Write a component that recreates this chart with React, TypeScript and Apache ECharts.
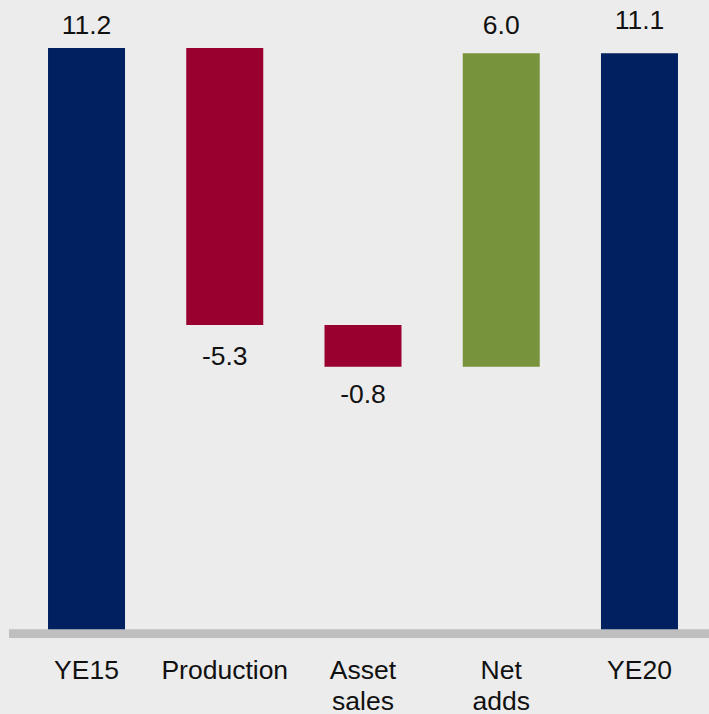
import React, { useEffect, useRef } from 'react';
import * as echarts from 'echarts';

const categories = ['YE15', 'Production', 'Asset\nsales', 'Net\nadds', 'YE20'];
const changes = [11.2, -5.3, -0.8, 6.0, 11.1];
const isTotal = [true, false, false, false, true];

const NAVY = '#002060';
const RED = '#990030';
const GREEN = '#77933C';
const BG = '#ececec';
const AXIS = '#bfbfbf';
const FONT = '"Liberation Sans", Arial, sans-serif';
const labelDist = [8, 16, 12, 13, 18.5];

export default function App() {
  const ref = useRef<HTMLDivElement>(null);
  useEffect(() => {
    if (!ref.current) return;
    const chart = echarts.init(ref.current, undefined, { renderer: 'svg' });
    const base: number[] = [];
    const heights: number[] = [];
    let running = 0;
    changes.forEach((v, i) => {
      if (isTotal[i]) {
        base.push(0);
        heights.push(v);
        running = v;
      } else if (v < 0) {
        base.push(running + v);
        heights.push(-v);
        running += v;
      } else {
        base.push(running);
        heights.push(v);
        running += v;
      }
    });
    const colorOf = (i: number) => (isTotal[i] ? NAVY : changes[i] < 0 ? RED : GREEN);
    chart.setOption({
      animation: false,
      backgroundColor: BG,
      textStyle: { fontFamily: FONT },
      grid: {
        left: 17.4,
        right: 0.4,
        top: 6.1,
        bottom: 80.5,
        containLabel: false,
        outerBoundsMode: 'none',
      },
      xAxis: {
        type: 'category',
        data: categories,
        axisLine: { show: false },
        axisTick: { show: false },
        axisLabel: {
          interval: 0,
          fontSize: 26.5,
          lineHeight: 31,
          color: '#111',
          margin: 20.5,
          fontFamily: FONT,
        },
      },
      yAxis: {
        type: 'value',
        min: 0,
        max: 12,
        show: false,
        splitLine: { show: false },
      },
      series: [
        {
          type: 'bar',
          stack: 'w',
          barWidth: 77,
          silent: true,
          itemStyle: { color: 'transparent' },
          data: base,
        },
        {
          type: 'bar',
          stack: 'w',
          barWidth: 77,
          data: heights.map((h, i) => ({
            value: h,
            itemStyle: { color: colorOf(i) },
            label: {
              show: true,
              position: changes[i] < 0 ? 'bottom' : 'top',
              distance: labelDist[i],
              formatter: changes[i].toFixed(1),
              fontSize: 26.5,
              lineHeight: 30,
              color: '#111',
              fontFamily: FONT,
            },
          })),
        },
      ],
      graphic: [
        {
          type: 'rect',
          z: 100,
          shape: { x: 9, y: 629.3, width: 700, height: 8.7 },
          style: { fill: AXIS },
        },
      ],
    });
    return () => chart.dispose();
  }, []);
  return (
    <div
      ref={ref}
      style={{ position: 'fixed', left: 0, top: 0, width: 709, height: 714 }}
    />
  );
}
